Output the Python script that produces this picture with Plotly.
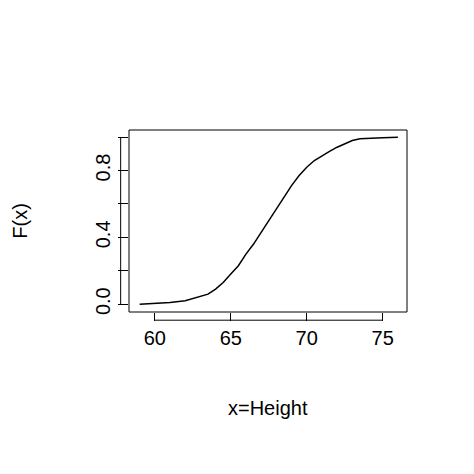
import plotly.graph_objects as go

height = [59, 60, 61, 62, 63, 63.5, 64, 64.5, 65, 65.5, 66, 66.5, 67, 67.5, 68, 68.5, 69, 69.5,
          70, 70.5, 71, 71.5, 72, 72.5, 73, 73.5, 74, 75, 76]
cdf = [0.0, 0.005, 0.01, 0.02, 0.045, 0.06, 0.09, 0.13, 0.18, 0.23, 0.30, 0.36, 0.43, 0.50,
       0.57, 0.64, 0.71, 0.77, 0.82, 0.86, 0.89, 0.915, 0.94, 0.96, 0.98, 0.99, 0.993, 0.997, 1.0]
xticks = [60, 65, 70, 75]
yticks = [0, 0.2, 0.4, 0.6, 0.8, 1.0]
ylabels = ["0.0", "", "0.4", "", "0.8", ""]

fig = go.Figure()
fig.add_trace(go.Scatter(x=height, y=cdf, mode="lines",
                         line=dict(color="black", width=1.5), showlegend=False))

font = dict(family="Liberation Sans, Arial", size=20, color="black")
fig.update_layout(
    width=474, height=474,
    margin=dict(l=121, r=75, t=122, b=170),
    plot_bgcolor="white", paper_bgcolor="white",
    font=font,
    xaxis=dict(range=[58.3, 76.6], tickvals=xticks, ticks="outside", ticklen=8,
               showgrid=False, zeroline=False, showline=False, tickcolor="black",
               tickfont=dict(size=20)),
    yaxis=dict(range=[-0.047, 1.043], tickvals=yticks, ticktext=ylabels, tickangle=-90,
               ticks="outside", ticklen=10, showgrid=False, zeroline=False,
               showline=False, tickcolor="black", tickfont=dict(size=20)),
    shapes=[
        dict(type="rect", xref="paper", yref="paper", x0=0, x1=1, y0=0, y1=1,
             line=dict(color="black", width=1)),
        dict(type="line", xref="x", yref="paper", x0=xticks[0], x1=xticks[-1],
             y0=-0.045, y1=-0.045, line=dict(color="black", width=1)),
        dict(type="line", xref="paper", yref="y", x0=-0.03, x1=-0.03,
             y0=yticks[0], y1=yticks[-1], line=dict(color="black", width=1)),
    ],
    annotations=[
        dict(text="x=Height", xref="paper", yref="paper", x=0.5, y=-0.6,
             showarrow=False, font=font),
        dict(text="F(x)", xref="paper", yref="paper", x=-0.44, y=0.5, textangle=-90,
             showarrow=False, font=font),
    ],
)
fig.write_html("out.html")
